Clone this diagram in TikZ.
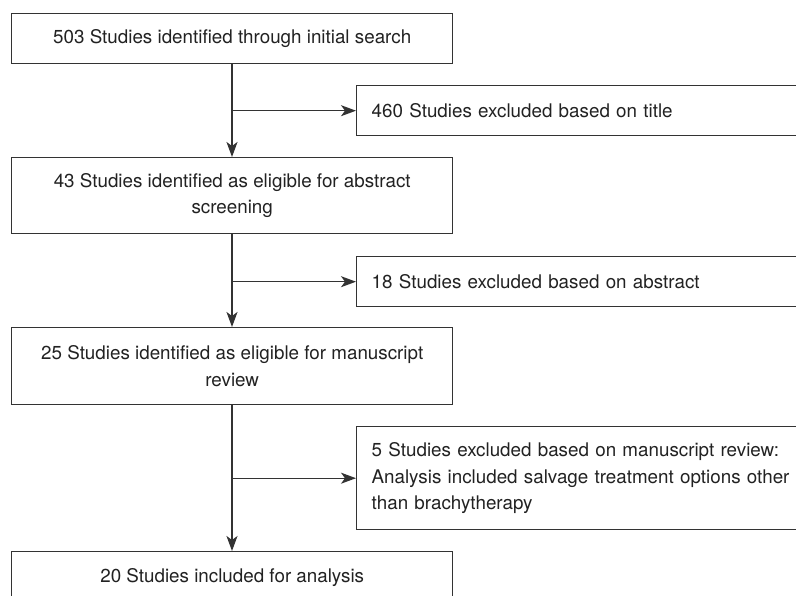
\documentclass[tikz,border=0pt]{standalone}
\usepackage{fontspec}
\setmainfont{TeX Gyre Heros}
\usetikzlibrary{arrows.meta}
\definecolor{lineC}{HTML}{333333}
\definecolor{txtC}{HTML}{222222}
\tikzset{
  mainbox/.style={draw=lineC, line width=1.4pt, rectangle, anchor=north west,
    minimum width=441pt, inner sep=0pt, align=center, text=txtC,
    font=\fontsize{18.8}{26.5}\selectfont},
  exbox/.style={draw=lineC, line width=1.4pt, rectangle, anchor=north west,
    text width=440pt, inner xsep=15pt, inner ysep=0pt, align=left, text=txtC,
    font=\fontsize{18.8}{26.5}\selectfont},
  flow/.style={draw=lineC, line width=1.4pt, -{Stealth[length=15pt,width=11pt,inset=4pt]}}
}
\begin{document}
\begin{tikzpicture}[x=1pt,y=1pt]
\clip (0,0) rectangle (796,-596);
\fill[white] (0,0) rectangle (796,-596);
\node[mainbox, minimum height=50pt] (b1) at (11,-13) {503 Studies identified through initial search};
\node[exbox, minimum height=50pt] (e1) at (356,-85) {460 Studies excluded based on title};
\node[mainbox, minimum height=76pt] (b2) at (11,-157) {43 Studies identified as eligible for abstract\\screening};
\node[exbox, minimum height=50pt] (e2) at (356,-256) {18 Studies excluded based on abstract};
\node[mainbox, minimum height=77pt] (b3) at (11,-327) {25 Studies identified as eligible for manuscript\\review};
\node[exbox, minimum height=103pt] (e3) at (356,-426) {5 Studies excluded based on manuscript review:\\Analysis included salvage treatment options other\\than brachytherapy};
\node[mainbox, minimum height=52pt, anchor=north west] (b4) at (11,-551) {20 Studies included for analysis};
\draw[flow] (b1.south -| 232,0) -- (b2.north -| 232,0);
\draw[flow] (b2.south -| 232,0) -- (b3.north -| 232,0);
\draw[flow] (b3.south -| 232,0) -- (b4.north -| 232,0);
\draw[flow] (e1.west -| 232,0) -- (e1.west);
\draw[flow] (e2.west -| 232,0) -- (e2.west);
\draw[flow] (e3.west -| 232,0) -- (e3.west);
\end{tikzpicture}
\end{document}
